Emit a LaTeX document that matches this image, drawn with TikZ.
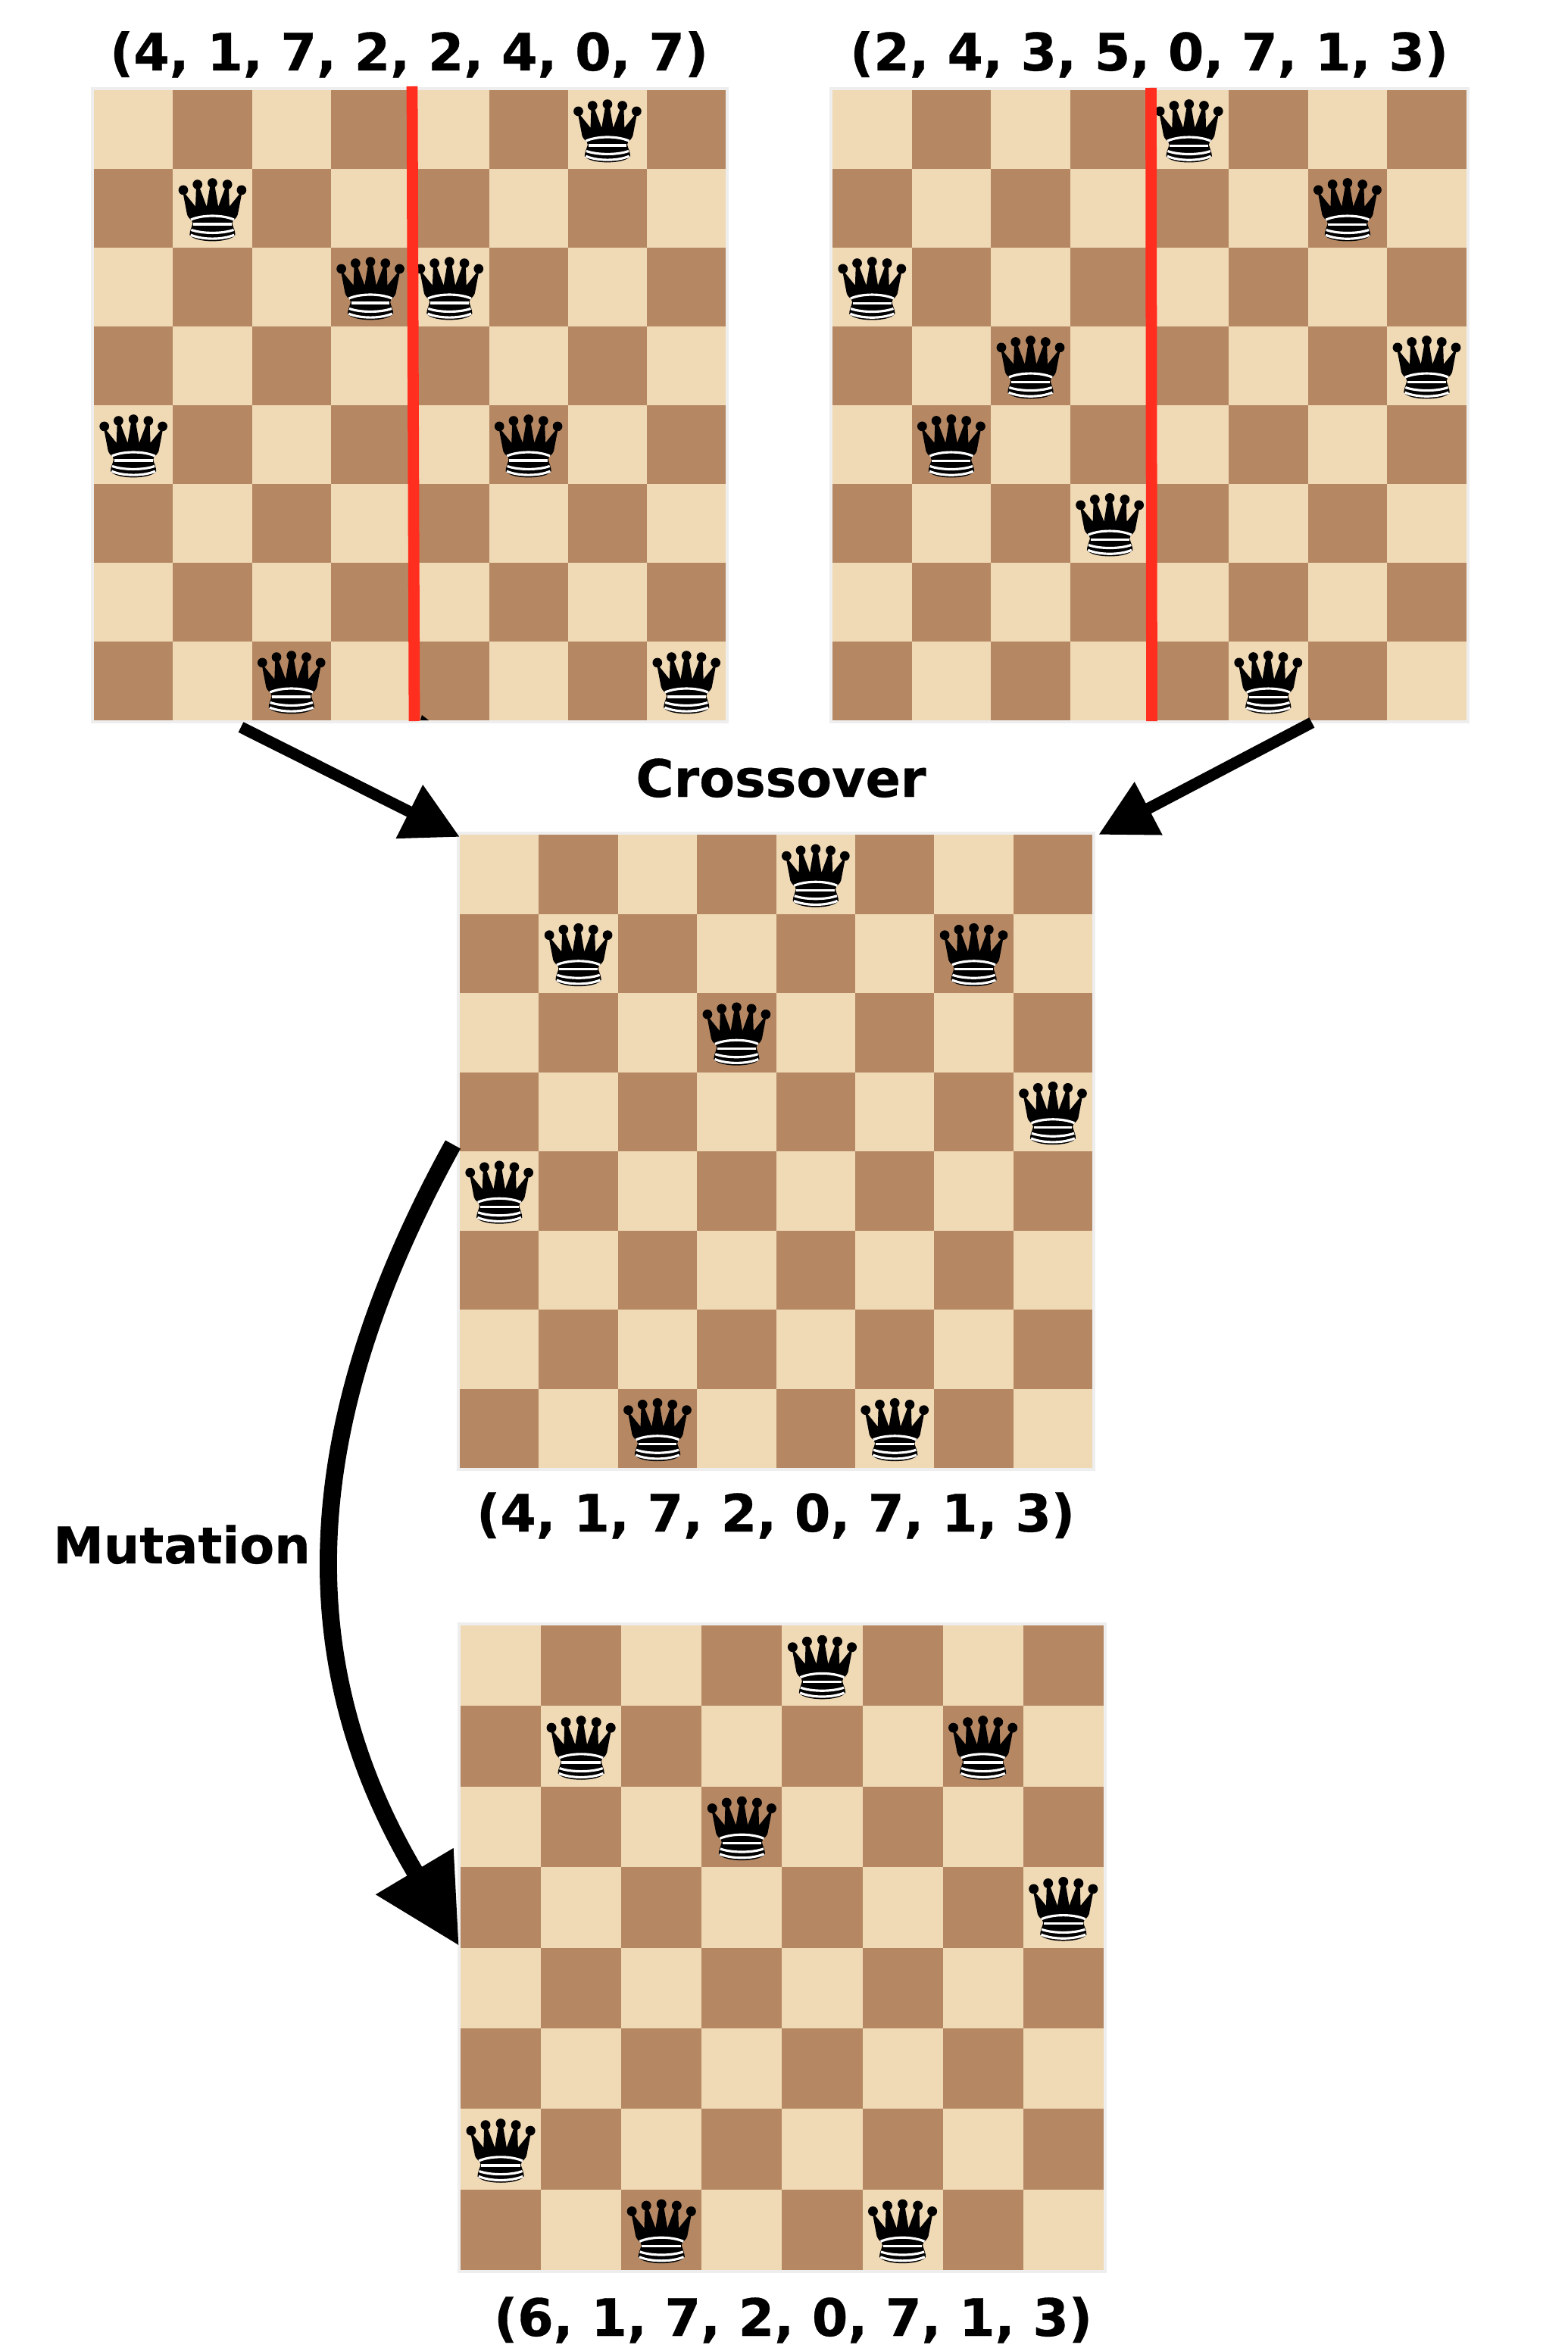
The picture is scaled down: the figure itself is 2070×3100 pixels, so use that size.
\documentclass[tikz,border=0pt]{standalone}
\usepackage{fontspec}
\setmainfont{DejaVu Sans}[BoldFeatures={FakeBold=0.5}]
\usetikzlibrary{arrows.meta,positioning}
\definecolor{lightsq}{HTML}{F0D9B5}
\definecolor{darksq}{HTML}{B58863}
\definecolor{framegray}{HTML}{EEEEEE}
\definecolor{cutred}{HTML}{FF2E1F}
\tikzset{
  boardframe/.style={fill=framegray,inner sep=0pt,outer sep=0pt,anchor=north west},
  title/.style={font=\fontsize{19.4}{24}\selectfont\bfseries,anchor=base,inner sep=0pt},
  cutline/.style={cutred,line width=4.2pt},
  flow/.style={line width=4.3pt,-{Triangle[length=0.745cm,width=0.75cm]}},
  mutflow/.style={line width=6.5pt,-{Triangle[length=1.146cm,width=1.13cm]}},
  queen/.pic={
    \fill (-118,-70) -- (-67,-7) -- (-64,-90) -- (-54,-90) -- (-23,-7) -- (-8,-95) -- (8,-95) -- (23,-7)
      -- (54,-90) -- (64,-90) -- (67,-7) -- (118,-70) -- (100,25) .. controls (95,38) and (88,42) .. (82,48)
      -- (78,60) .. controls (82,75) and (90,90) .. (90,105) .. controls (70,138) and (-70,138) .. (-90,105)
      .. controls (-90,90) and (-82,75) .. (-78,60) -- (-82,48) .. controls (-88,42) and (-95,38) .. (-100,25) -- cycle;
    \fill (-115,-72) circle (19) (-59,-94) circle (19) (0,-100) circle (19) (59,-94) circle (19) (115,-72) circle (19);
    \draw[white,line width=0.9pt] (-85,45) .. controls (-40,25) and (40,25) .. (85,45);
    \draw[white,line width=0.9pt] (-76,63) -- (76,63);
    \draw[white,line width=0.9pt] (-84,85) .. controls (-40,101) and (40,101) .. (84,85);
    \draw[white,line width=0.9pt] (-86,105) .. controls (-40,125) and (40,125) .. (86,105);
  }
}
% name, left, top, cell width, cell height, queen rows
\newcommand{\chessboard}[6]{
  \pgfmathsetmacro{\boardw}{(8*#4+8)*0.01}
  \pgfmathsetmacro{\boardh}{(8*#5+8)*0.01}
  \node[boardframe,minimum width=\boardw cm,minimum height=\boardh cm] (#1) at (#2-4,#3-4) {};
  \fill[lightsq] (#2,#3) rectangle (#2+8*#4,#3+8*#5);
  \foreach \c in {0,...,7}
    \foreach \r in {0,...,7} {
      \pgfmathtruncatemacro{\sqtype}{mod(\c+\r,2)}
      \ifnum\sqtype=1
        \fill[darksq] (#2+\c*#4,#3+\r*#5) rectangle (#2+\c*#4+#4,#3+\r*#5+#5);
      \fi
    }
  \pgfmathsetmacro{\queenscale}{#4/312}
  \foreach \r [count=\c from 0] in {#6}
    \pic[scale=\queenscale] at (#2+\c*#4+0.5*#4,#3+\r*#5+0.5*#5) {queen};
}

\begin{document}
\begin{tikzpicture}[x=0.01cm,y=-0.01cm]
\useasboundingbox (0,0) rectangle (2070,3100);

\chessboard{boardA}{124}{119}{104.3}{104}{4,1,7,2,2,4,0,7}
\chessboard{boardB}{1099}{119}{104.6}{104}{2,4,3,5,0,7,1,3}
\chessboard{boardC}{607}{1102}{104.4}{104.5}{4,1,7,2,0,7,1,3}
\chessboard{boardD}{608}{2146}{106.1}{106.4}{6,1,7,2,0,7,1,3}

\node[title] (titleA) at (540,93) {(4, 1, 7, 2, 2, 4, 0, 7)};
\node[title] (titleB) at (1517,93) {(2, 4, 3, 5, 0, 7, 1, 3)};
\node[title] (titleC) at (1024,2022) {(4, 1, 7, 2, 0, 7, 1, 3)};
\node[title] (titleD) at (1047,3084) {(6, 1, 7, 2, 0, 7, 1, 3)};
\node[title] (crossover) at (1031,1052) {Crossover};
\node[title,font=\fontsize{19}{24}\selectfont\bfseries] (mutation) at (240,2064) {Mutation};

\coordinate (cutAtop) at (544,114);
\coordinate (cutAbot) at (547,952);
\coordinate (cutBtop) at (1519.5,116);
\coordinate (cutBbot) at (1520.5,952);
\draw[cutline] (cutAtop) -- (cutAbot);
\draw[cutline] (cutBtop) -- (cutBbot);
\fill (555,951) -- (557,944) -- (566,951) -- cycle;

\draw[flow] ([shift={(198,5)}]boardA.south west) -- ([shift={(4,7)}]boardC.north west);
\draw[flow] ([shift={(-208,-1)}]boardB.south east) -- ([shift={(4,4)}]boardC.north east);
\draw[mutflow] ([shift={(-5,413)}]boardC.north west) .. controls (381,1904) and (393,2212) .. ([shift={(2,427)}]boardD.north west);
\end{tikzpicture}
\end{document}
